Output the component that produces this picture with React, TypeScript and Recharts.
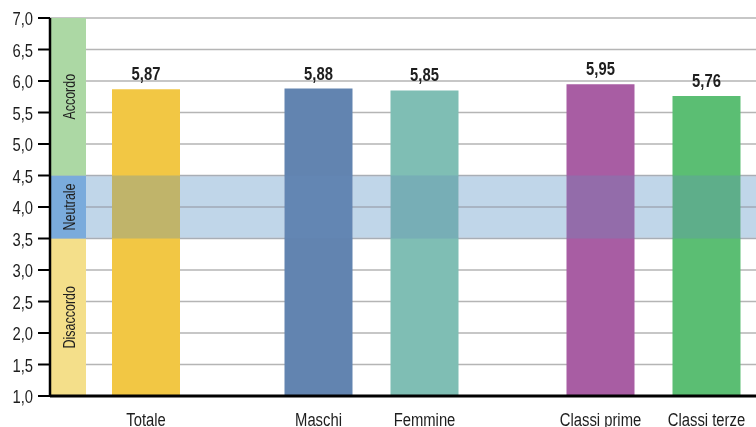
import { Bar, CartesianGrid, Cell, ComposedChart, LabelList, ReferenceArea, XAxis, YAxis } from "recharts"

// bars
const categories = ["Totale", "Maschi", "Femmine", "Classi prime", "Classi terze"]
const scores = [5.87, 5.88, 5.85, 5.95, 5.76]
const barColors = ["#f2c744", "#6284b0", "#7fbeb4", "#a85da3", "#5bbe73"]
// position of each bar on the horizontal scale (groups are separated by a gap)
const slots = [96, 268.5, 374.5, 550.5, 656.5]

// agreement zones on the left strip
const zoneNames = ["Disaccordo", "Neutrale", "Accordo"]
const zoneFrom = [1, 3.5, 4.5]
const zoneTo = [3.5, 4.5, 7]
const zoneColors = ["#f4df8a", "#7aabdc", "#acd8a4"]

const yTicks = [1, 1.5, 2, 2.5, 3, 3.5, 4, 4.5, 5, 5.5, 6, 6.5, 7]

const FONT = "'Liberation Sans', Arial, sans-serif"
const SQUEEZE = 0.78 // condensed look, no narrow face installed

// text squeezed horizontally around its anchor point
function Narrow({ x, y, anchor = "middle", size, bold, rotate = 0, baseline, children }: any) {
  return (
    <text
      transform={`translate(${x} ${y}) rotate(${rotate}) scale(${SQUEEZE} 1)`}
      textAnchor={anchor}
      dominantBaseline={baseline}
      fontSize={size}
      fontWeight={bold ? "bold" : "normal"}
      fill="#1e1e1e"
    >
      {children}
    </text>
  )
}

const fmt1 = (v: number) => v.toFixed(1).replace(".", ",")
const fmt2 = (v: number) => v.toFixed(2).replace(".", ",")

const YTick = ({ x, y, payload }: any) => (
  <Narrow x={x - 1} y={y + 7} anchor="end" size={19}>
    {fmt1(payload.value)}
  </Narrow>
)

const XTick = ({ x, y, payload }: any) => (
  <Narrow x={x} y={y + 30} size={19}>
    {categories[slots.indexOf(payload.value)]}
  </Narrow>
)

const ValueLabel = ({ x, y, width, value }: any) => (
  <Narrow x={x + width / 2} y={y - 9} size={19} bold>
    {fmt2(Number(value))}
  </Narrow>
)

const ZoneLabel = ({ viewBox, text }: any) => {
  if (!viewBox) return null
  return (
    <Narrow
      x={viewBox.x + viewBox.width / 2 + 1}
      y={viewBox.y + viewBox.height / 2}
      size={16}
      rotate={-90}
      baseline="central"
    >
      {text}
    </Narrow>
  )
}

// neutral band laid over the bars: a darken pass plus a light blue veil
const BandShape = ({ x, y, width, height }: any) => (
  <g>
    <rect x={x} y={y} width={width} height={height} fill="#ebf9ff" style={{ mixBlendMode: "darken" }} />
    <rect x={x} y={y} width={width} height={height} fill="#688cbc" fillOpacity={0.32} />
  </g>
)

export default function App() {
  const data = categories.map((name, i) => ({ name, slot: slots[i], score: scores[i] }))

  return (
    <div style={{ position: "absolute", left: 0, top: 0, fontFamily: FONT, isolation: "isolate", background: "#fff" }}>
      <ComposedChart width={756} height={427} data={data} margin={{ top: 18, right: 0, bottom: 0, left: 0 }}>
        <CartesianGrid vertical={false} stroke="#b5b5b5" strokeWidth={1.5} />
        {zoneNames.map((name, i) => (
          <ReferenceArea
            key={name}
            x1={0}
            x2={36}
            y1={zoneFrom[i]}
            y2={zoneTo[i]}
            fill={zoneColors[i]}
            fillOpacity={1}
            stroke="none"
            label={(p: any) => <ZoneLabel viewBox={p.viewBox} text={name} />}
          />
        ))}
        <XAxis
          type="number"
          dataKey="slot"
          domain={[0, 706]}
          ticks={slots}
          interval={0}
          tick={<XTick />}
          tickLine={false}
          tickSize={0}
          tickMargin={0}
          axisLine={{ stroke: "#000", strokeWidth: 3 }}
          height={31}
        />
        <YAxis
          domain={[1, 7]}
          ticks={yTicks}
          interval={0}
          tick={<YTick />}
          axisLine={{ stroke: "#000", strokeWidth: 2.5 }}
          tickLine={{ stroke: "#000", strokeWidth: 2 }}
          tickSize={12}
          tickMargin={4}
          width={50}
        />
        <Bar dataKey="score" barSize={68} isAnimationActive={false}>
          {data.map((d, i) => (
            <Cell key={d.name} fill={barColors[i]} />
          ))}
          <LabelList dataKey="score" content={<ValueLabel />} />
        </Bar>
        <ReferenceArea
          x1={36}
          x2={706}
          y1={3.5}
          y2={4.5}
          shape={<BandShape />}
          stroke="none"
          zIndex={450}
        />
      </ComposedChart>
    </div>
  )
}
